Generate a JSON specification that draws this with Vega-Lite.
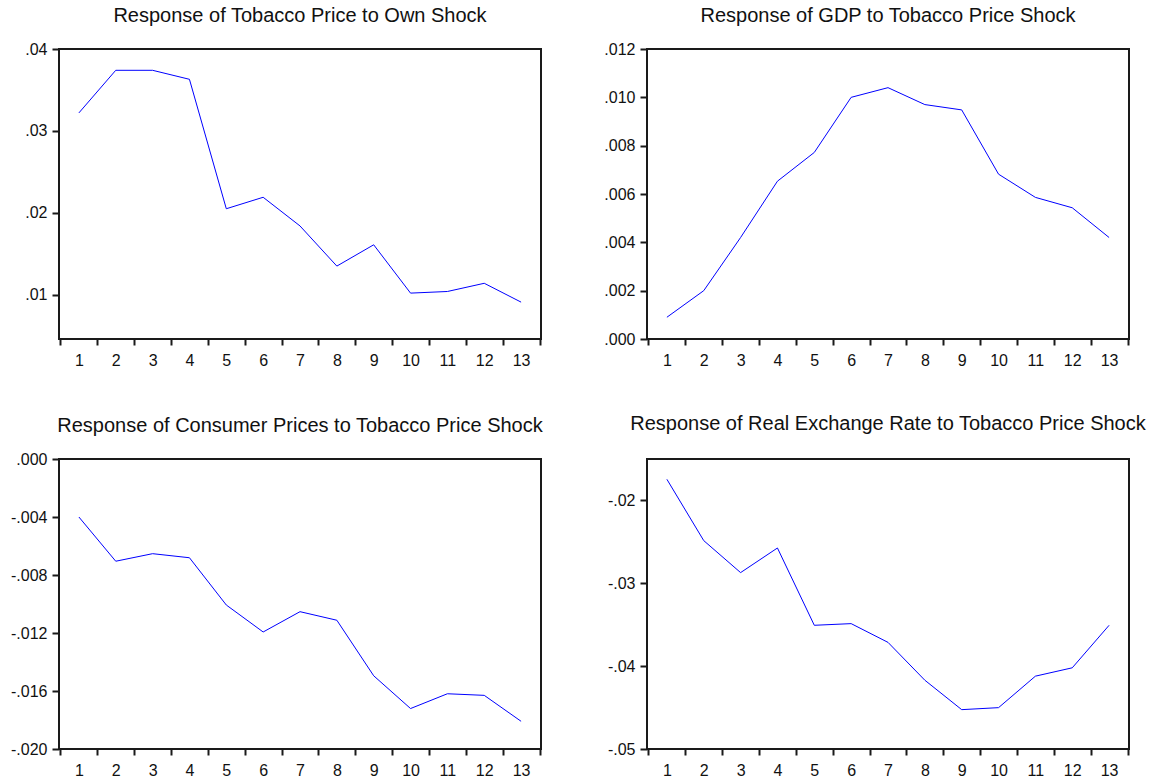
{
  "$schema": "https://vega.github.io/schema/vega-lite/v6.json",
  "background": "white",
  "padding": {"left": 9, "top": 5, "right": 5, "bottom": 5},
  "columns": 2,
  "spacing": {"row": 120, "column": 106},
  "bounds": "flush",
  "datasets": {
    "p1": [
      {"h": 1, "v": 0.0322}, {"h": 2, "v": 0.0374}, {"h": 3, "v": 0.0374}, {"h": 4, "v": 0.0363},
      {"h": 5, "v": 0.0205}, {"h": 6, "v": 0.0219}, {"h": 7, "v": 0.0184}, {"h": 8, "v": 0.0135},
      {"h": 9, "v": 0.0161}, {"h": 10, "v": 0.0102}, {"h": 11, "v": 0.0104}, {"h": 12, "v": 0.0114},
      {"h": 13, "v": 0.0091}
    ],
    "p2": [
      {"h": 1, "v": 0.0009}, {"h": 2, "v": 0.0020}, {"h": 3, "v": 0.0042}, {"h": 4, "v": 0.00653},
      {"h": 5, "v": 0.00772}, {"h": 6, "v": 0.0100}, {"h": 7, "v": 0.0104}, {"h": 8, "v": 0.0097},
      {"h": 9, "v": 0.00948}, {"h": 10, "v": 0.00682}, {"h": 11, "v": 0.00586}, {"h": 12, "v": 0.00543},
      {"h": 13, "v": 0.0042}
    ],
    "p3": [
      {"h": 1, "v": -0.0040}, {"h": 2, "v": -0.00705}, {"h": 3, "v": -0.00653}, {"h": 4, "v": -0.00681},
      {"h": 5, "v": -0.01007}, {"h": 6, "v": -0.01193}, {"h": 7, "v": -0.01053}, {"h": 8, "v": -0.01112},
      {"h": 9, "v": -0.01495}, {"h": 10, "v": -0.01721}, {"h": 11, "v": -0.01619}, {"h": 12, "v": -0.0163},
      {"h": 13, "v": -0.01809}
    ],
    "p4": [
      {"h": 1, "v": -0.01745}, {"h": 2, "v": -0.02485}, {"h": 3, "v": -0.02871}, {"h": 4, "v": -0.02574},
      {"h": 5, "v": -0.03507}, {"h": 6, "v": -0.03487}, {"h": 7, "v": -0.03713}, {"h": 8, "v": -0.0417},
      {"h": 9, "v": -0.04525}, {"h": 10, "v": -0.04501}, {"h": 11, "v": -0.04121}, {"h": 12, "v": -0.0402},
      {"h": 13, "v": -0.03507}
    ]
  },
  "concat": [
    {
      "title": {"text": "Response of Tobacco Price to Own Shock", "offset": 15},
      "width": 482, "height": 290,
      "data": {"name": "p1"},
      "mark": {"type": "line", "color": "#0000FF", "strokeWidth": 1},
      "encoding": {
        "x": {"field": "h", "type": "ordinal", "scale": {"type": "band", "domain": [1,2,3,4,5,6,7,8,9,10,11,12,13], "paddingInner": 0, "paddingOuter": 0.04}, "title": null},
        "y": {"field": "v", "type": "quantitative", "scale": {"domain": [0.0046, 0.04], "zero": false, "nice": false}, "title": null,
          "axis": {"values": [0.01, 0.02, 0.03, 0.04], "labelExpr": "(datum.value < 0 ? '-' : '') + replace(format(abs(datum.value), '.2f'), '0.', '.')"}}
      }
    },
    {
      "title": {"text": "Response of GDP to Tobacco Price Shock", "offset": 15},
      "width": 482, "height": 290,
      "data": {"name": "p2"},
      "mark": {"type": "line", "color": "#0000FF", "strokeWidth": 1},
      "encoding": {
        "x": {"field": "h", "type": "ordinal", "scale": {"type": "band", "domain": [1,2,3,4,5,6,7,8,9,10,11,12,13], "paddingInner": 0, "paddingOuter": 0.04}, "title": null},
        "y": {"field": "v", "type": "quantitative", "scale": {"domain": [0, 0.012], "zero": false, "nice": false}, "title": null,
          "axis": {"values": [0, 0.002, 0.004, 0.006, 0.008, 0.01, 0.012], "labelExpr": "(datum.value < 0 ? '-' : '') + replace(format(abs(datum.value), '.3f'), '0.', '.')"}}
      }
    },
    {
      "title": {"text": "Response of Consumer Prices to Tobacco Price Shock", "offset": 15},
      "width": 482, "height": 290,
      "data": {"name": "p3"},
      "mark": {"type": "line", "color": "#0000FF", "strokeWidth": 1},
      "encoding": {
        "x": {"field": "h", "type": "ordinal", "scale": {"type": "band", "domain": [1,2,3,4,5,6,7,8,9,10,11,12,13], "paddingInner": 0, "paddingOuter": 0.04}, "title": null},
        "y": {"field": "v", "type": "quantitative", "scale": {"domain": [-0.02, 0], "zero": false, "nice": false}, "title": null,
          "axis": {"values": [-0.02, -0.016, -0.012, -0.008, -0.004, 0], "labelExpr": "(datum.value < 0 ? '-' : '') + replace(format(abs(datum.value), '.3f'), '0.', '.')"}}
      }
    },
    {
      "title": {"text": "Response of Real Exchange Rate to Tobacco Price Shock", "offset": 25},
      "width": 482, "height": 290,
      "data": {"name": "p4"},
      "mark": {"type": "line", "color": "#0000FF", "strokeWidth": 1},
      "encoding": {
        "x": {"field": "h", "type": "ordinal", "scale": {"type": "band", "domain": [1,2,3,4,5,6,7,8,9,10,11,12,13], "paddingInner": 0, "paddingOuter": 0.04}, "title": null},
        "y": {"field": "v", "type": "quantitative", "scale": {"domain": [-0.05, -0.015], "zero": false, "nice": false}, "title": null,
          "axis": {"values": [-0.05, -0.04, -0.03, -0.02], "labelExpr": "(datum.value < 0 ? '-' : '') + replace(format(abs(datum.value), '.2f'), '0.', '.')"}}
      }
    }
  ],
  "config": {
    "font": "Liberation Sans",
    "view": {"stroke": "#1a1a1a", "strokeWidth": 2},
    "title": {"font": "Liberation Sans", "fontSize": 20, "fontWeight": "normal", "color": "#111", "anchor": "middle", "frame": "group", "baseline": "alphabetic"},
    "axis": {"grid": false, "domain": false, "labelFont": "Liberation Sans", "labelFontSize": 16, "labelColor": "#111", "tickColor": "#1a1a1a", "tickWidth": 2},
    "axisX": {"tickBand": "extent", "tickSize": 6, "labelPadding": 7, "labelAngle": 0},
    "axisY": {"tickSize": 7, "labelPadding": 5}
  }
}
